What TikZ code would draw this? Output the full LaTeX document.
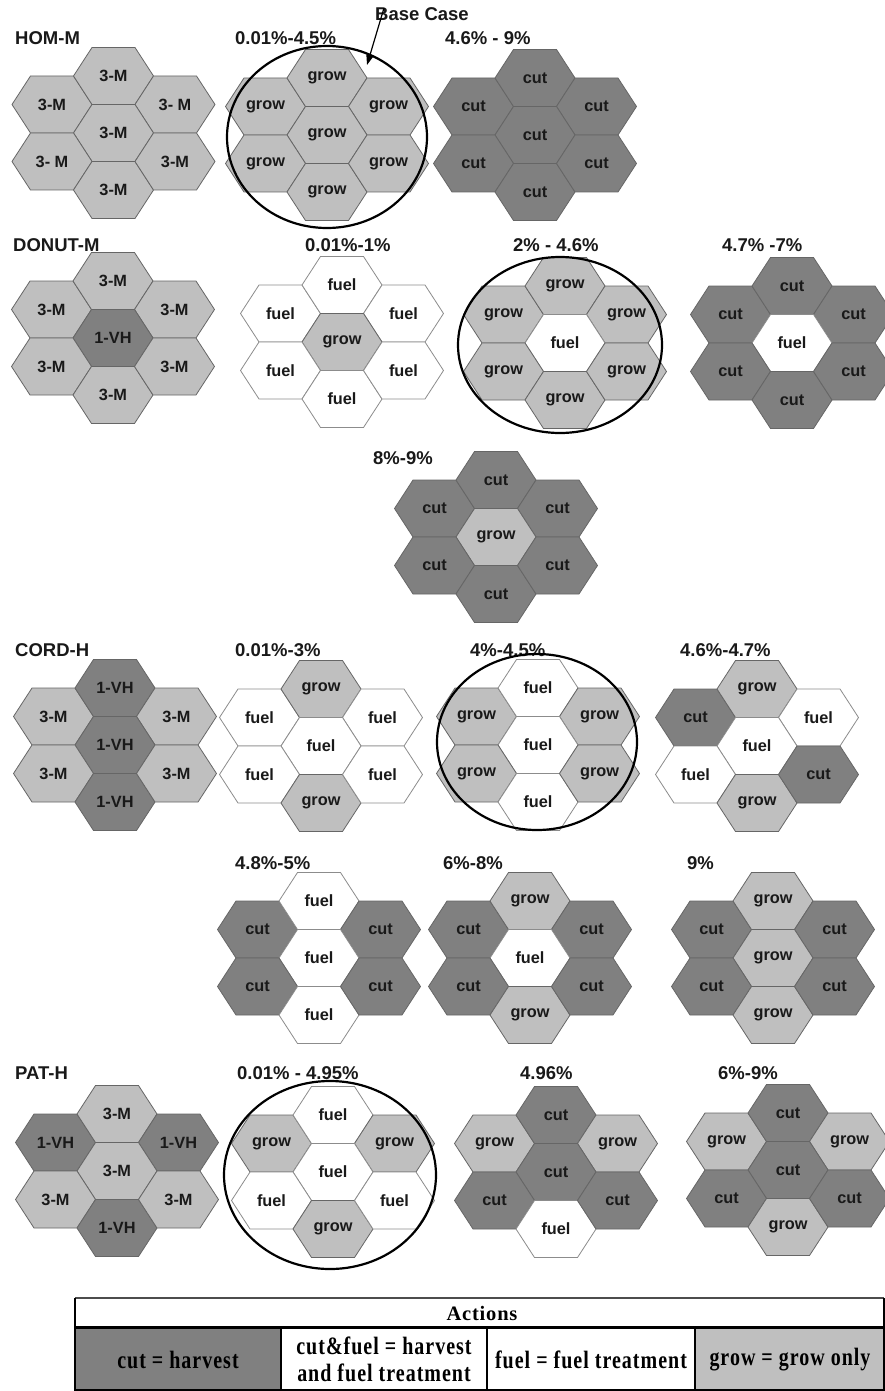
\documentclass[tikz,border=0pt]{standalone}
\usepackage{fontspec}
\setmainfont{Liberation Sans}
\newfontfamily\tabfont[LetterSpace=4,FakeStretch=0.8]{Liberation Serif}
\newfontfamily\tabheadfont[LetterSpace=4]{Liberation Serif}
\usetikzlibrary{arrows.meta}

\tikzset{
  hexbase/.style={draw=black!60, line width=0.8pt},
  cell cut/.style={hexbase, fill=black!50},
  cell grow/.style={hexbase, fill=black!25},
  cell fuel/.style={hexbase, draw=black!45, fill=white},
  cell M/.style={hexbase, fill=black!25},
  cell VH/.style={hexbase, fill=black!50},
  celltext/.style={font=\fontsize{16.3}{17}\selectfont\bfseries, inner sep=0pt, text=black!90},
  lbl/.style={font=\fontsize{18.5}{20}\selectfont\bfseries, anchor=west, inner sep=0pt, text=black!90},
  basering/.style={draw=black, line width=2.2pt},
  tabtext/.style={font=\tabfont\fontsize{25}{27}\selectfont\bfseries, inner sep=0pt, align=center},
  tabhead/.style={font=\tabheadfont\fontsize{20.5}{24}\selectfont\bfseries, inner sep=0pt},
  tabline/.style={draw=black, line width=2pt},
}

% #1 name, #2 cx, #3 cy, #4 list style/text in order UL,T,UR,C,LL,B,LR
\newcommand\hexcluster[4]{%
  \foreach [count=\i] \st/\tx in {#4} {
    \pgfmathsetmacro\ox{{-61.5,0,61.5,0,-61.5,0,61.5}[\i-1]}
    \pgfmathsetmacro\oy{{-28.5,-57,-28.5,0,28.5,57,28.5}[\i-1]}
    \path[cell \st] (#2+\ox,#3+\oy) +(-40,0) -- +(-21.5,-28.5) -- +(21.5,-28.5)
      -- +(40,0) -- +(21.5,28.5) -- +(-21.5,28.5) -- cycle;
    \node[celltext] (#1-\i) at (#2+\ox,#3+\oy) {\tx};
  }}

\begin{document}
\begin{tikzpicture}[x=1pt,y=-1pt]
\fill[white] (0,0) rectangle (885,1391);
\useasboundingbox (0,0) rectangle (885,1391);

% ---------- Row 1: HOM-M ----------
\node[lbl] (hom) at (15,38) {HOM-M};
\node[lbl] (r1b) at (235,38) {0.01\%-4.5\%};
\node[lbl] (r1c) at (445,38) {4.6\% - 9\%};
\hexcluster{h1}{113.5}{133}{M/3-M, M/3-M, M/3- M, M/3-M, M/3- M, M/3-M, M/3-M}
\hexcluster{h2}{327}{135}{grow/grow, grow/grow, grow/grow, grow/grow, grow/grow, grow/grow, grow/grow}
\hexcluster{h3}{535}{135}{cut/cut, cut/cut, cut/cut, cut/cut, cut/cut, cut/cut, cut/cut}
\draw[basering] (327,137) ellipse [x radius=100pt, y radius=91pt];
\node[lbl] (basecase) at (375,14) {Base Case};
\coordinate (arrS) at (384,8);
\coordinate (arrE) at (367,65);
\draw[line width=1.2pt, -{Triangle[length=10pt,width=7pt]}] (arrS) -- (arrE);

% ---------- Row 2: DONUT-M ----------
\node[lbl] (donut) at (13,245) {DONUT-M};
\node[lbl] (r2b) at (305,245) {0.01\%-1\%};
\node[lbl] (r2c) at (513,245) {2\% - 4.6\%};
\node[lbl] (r2d) at (722,245) {4.7\% -7\%};
\hexcluster{d1}{113}{338}{M/3-M, M/3-M, M/3-M, VH/1-VH, M/3-M, M/3-M, M/3-M}
\hexcluster{d2}{342}{342}{fuel/fuel, fuel/fuel, fuel/fuel, grow/grow, fuel/fuel, fuel/fuel, fuel/fuel}
\hexcluster{d3}{565}{343}{grow/grow, grow/grow, grow/grow, fuel/fuel, grow/grow, grow/grow, grow/grow}
\hexcluster{d4}{792}{343}{cut/cut, cut/cut, cut/cut, fuel/fuel, cut/cut, cut/cut, cut/cut}
\draw[basering] (560,345) ellipse [x radius=102pt, y radius=88pt];

% ---------- Row 3 ----------
\node[lbl] (r3) at (373,458) {8\%-9\%};
\hexcluster{e1}{496}{537}{cut/cut, cut/cut, cut/cut, grow/grow, cut/cut, cut/cut, cut/cut}

% ---------- Row 4: CORD-H ----------
\node[lbl] (cord) at (15,650) {CORD-H};
\node[lbl] (r4b) at (235,650) {0.01\%-3\%};
\node[lbl] (r4c) at (470,650) {4\%-4.5\%};
\node[lbl] (r4d) at (680,650) {4.6\%-4.7\%};
\hexcluster{c1}{115}{745}{M/3-M, VH/1-VH, M/3-M, VH/1-VH, M/3-M, VH/1-VH, M/3-M}
\hexcluster{c2}{321}{746}{fuel/fuel, grow/grow, fuel/fuel, fuel/fuel, fuel/fuel, grow/grow, fuel/fuel}
\hexcluster{c3}{538}{745}{grow/grow, fuel/fuel, grow/grow, fuel/fuel, grow/grow, fuel/fuel, grow/grow}
\hexcluster{c4}{757}{746}{cut/cut, grow/grow, fuel/fuel, fuel/fuel, fuel/fuel, grow/grow, cut/cut}
\draw[basering] (537,742) ellipse [x radius=100pt, y radius=88pt];

% ---------- Row 5 ----------
\node[lbl] (r5a) at (235,863) {4.8\%-5\%};
\node[lbl] (r5b) at (443,863) {6\%-8\%};
\node[lbl] (r5c) at (687,863) {9\%};
\hexcluster{f1}{319}{958}{cut/cut, fuel/fuel, cut/cut, fuel/fuel, cut/cut, fuel/fuel, cut/cut}
\hexcluster{f2}{530}{958}{cut/cut, grow/grow, cut/cut, fuel/fuel, cut/cut, grow/grow, cut/cut}
\hexcluster{f3}{773}{958}{cut/cut, grow/grow, cut/cut, grow/grow, cut/cut, grow/grow, cut/cut}

% ---------- Row 6: PAT-H ----------
\node[lbl] (pat) at (15,1073) {PAT-H};
\node[lbl] (r6b) at (237,1073) {0.01\% - 4.95\%};
\node[lbl] (r6c) at (520,1073) {4.96\%};
\node[lbl] (r6d) at (718,1073) {6\%-9\%};
\hexcluster{p1}{117}{1171}{VH/1-VH, M/3-M, VH/1-VH, M/3-M, M/3-M, VH/1-VH, M/3-M}
\hexcluster{p2}{333}{1172}{grow/grow, fuel/fuel, grow/grow, fuel/fuel, fuel/fuel, grow/grow, fuel/fuel}
\hexcluster{p3}{556}{1172}{grow/grow, cut/cut, grow/grow, cut/cut, cut/cut, fuel/fuel, cut/cut}
\hexcluster{p4}{788}{1170}{grow/grow, cut/cut, grow/grow, cut/cut, cut/cut, grow/grow, cut/cut}
\draw[basering] (330,1175) ellipse [x radius=106pt, y radius=94pt];

% ---------- Legend table ----------
\fill[black!50] (75,1327) rectangle (281,1391);
\fill[black!25] (695,1327) rectangle (884,1391);
\draw[line width=1.5pt, draw=black!70] (75,1298) -- (884,1298);
\draw[line width=2pt] (75,1298) -- (75,1391);
\draw[line width=2pt] (884,1298) -- (884,1391);
\draw[line width=1.5pt] (75,1390) -- (884,1390);
\draw[line width=3pt] (75,1327) -- (884,1327);
\draw[tabline] (281,1327) -- (281,1391);
\draw[tabline] (487,1327) -- (487,1391);
\draw[tabline] (695,1327) -- (695,1391);
\node[tabhead] (act) at (482,1313) {Actions};
\node[tabtext] (leg1) at (178,1360) {cut = harvest};
\node[tabtext] (leg2) at (384,1359) {cut\&fuel = harvest\\and fuel treatment};
\node[tabtext] (leg3) at (591,1360) {fuel = fuel treatment};
\node[tabtext] (leg4) at (790,1360) {grow = grow only};
\end{tikzpicture}
\end{document}
